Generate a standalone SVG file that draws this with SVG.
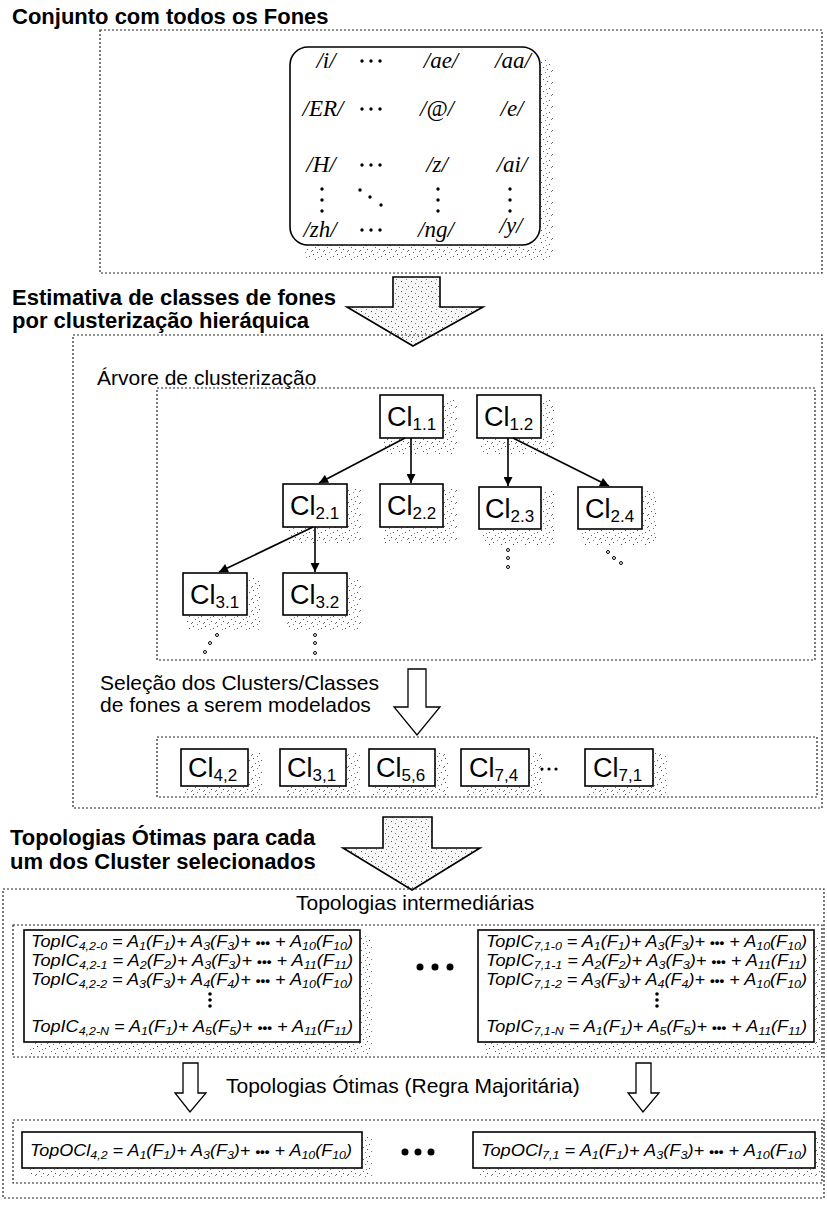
<svg xmlns="http://www.w3.org/2000/svg" width="827" height="1220" viewBox="0 0 827 1220">
<defs>
<pattern id="sh" width="12" height="12" patternUnits="userSpaceOnUse">
<rect x="1" y="2" width="1" height="1" fill="#555"/><rect x="5" y="0" width="1" height="1" fill="#777"/><rect x="9" y="4" width="1" height="1" fill="#555"/><rect x="3" y="7" width="1" height="1" fill="#666"/><rect x="7" y="9" width="1" height="1" fill="#555"/><rect x="11" y="11" width="1" height="1" fill="#777"/><rect x="0" y="10" width="1" height="1" fill="#666"/><rect x="6" y="5" width="1" height="1" fill="#888"/>
</pattern>
<pattern id="ar" width="10" height="10" patternUnits="userSpaceOnUse">
<rect width="10" height="10" fill="#f7f7f7"/><rect x="1" y="1" width="1" height="1" fill="#555"/><rect x="5" y="3" width="1" height="1" fill="#777"/><rect x="8" y="6" width="1" height="1" fill="#555"/><rect x="2" y="7" width="1" height="1" fill="#666"/><rect x="6" y="9" width="1" height="1" fill="#888"/>
</pattern>
<marker id="ah" viewBox="0 0 10 10" refX="10" refY="5" markerWidth="11" markerHeight="9" markerUnits="userSpaceOnUse" orient="auto"><path d="M0,0 L10,5 L0,10 z" fill="#000"/></marker>
<style>
.db{fill:none;stroke:#222;stroke-width:1.2;stroke-dasharray:2 2}
.nb{fill:#fff;stroke:#000;stroke-width:1.6}
.sh{fill:url(#sh)}
.ha{fill:#fff;stroke:#000;stroke-width:1.3}
.ba{fill:url(#ar);stroke:#000;stroke-width:1.6}
.h{font-family:"Liberation Sans",Arial,sans-serif;font-weight:bold;font-size:22px;fill:#000}
.l{font-family:"Liberation Sans",Arial,sans-serif;font-size:21px;fill:#000}
.ph{font-family:"Liberation Serif","Times New Roman",serif;font-style:italic;font-size:23px;text-anchor:middle;fill:#000}
.cl{font-family:"Liberation Sans",Arial,sans-serif;font-size:27px;fill:#000}
.cs{font-size:17px}
.f{font-family:"Liberation Sans",Arial,sans-serif;font-style:italic;font-size:16px;fill:#000}
.s{font-size:11px}
.d{font-size:12px;font-weight:bold;font-style:normal}
.dot{fill:#000}
.cd{fill:none;stroke:#000;stroke-width:1}
.edge{stroke:#000;stroke-width:1.6;fill:none;marker-end:url(#ah)}
</style>
</defs>

<!-- Section 1 -->
<g id="sec1">
<text class="h" x="12" y="24">Conjunto com todos os Fones</text>
<rect class="db" x="100" y="30" width="722" height="243"/>
<path class="sh" d="M540,60 H553 V260 H305 V245 H540 Z"/>
<rect x="290" y="47" width="250" height="198" rx="18" fill="#fff" stroke="#000" stroke-width="1.6"/>
<text class="ph" x="326" y="68">/i/</text>
<text class="ph" x="441" y="68">/ae/</text>
<text class="ph" x="513" y="68">/aa/</text>
<text class="ph" x="323" y="116">/ER/</text>
<text class="ph" x="437" y="116">/@/</text>
<text class="ph" x="512" y="116">/e/</text>
<text class="ph" x="321" y="172">/H/</text>
<text class="ph" x="437" y="172">/z/</text>
<text class="ph" x="512" y="172">/ai/</text>
<text class="ph" x="320" y="237">/zh/</text>
<text class="ph" x="436" y="237">/ng/</text>
<text class="ph" x="511" y="233">/y/</text>
<g class="dot">
<circle cx="362" cy="61" r="1.7"/><circle cx="371" cy="61" r="1.7"/><circle cx="380" cy="61" r="1.7"/>
<circle cx="362" cy="109" r="1.7"/><circle cx="371" cy="109" r="1.7"/><circle cx="380" cy="109" r="1.7"/>
<circle cx="362" cy="165" r="1.7"/><circle cx="371" cy="165" r="1.7"/><circle cx="380" cy="165" r="1.7"/>
<circle cx="362" cy="230" r="1.7"/><circle cx="371" cy="230" r="1.7"/><circle cx="380" cy="230" r="1.7"/>
<circle cx="322" cy="189" r="1.7"/><circle cx="322" cy="200" r="1.7"/><circle cx="322" cy="211" r="1.7"/>
<circle cx="360" cy="190" r="1.7"/><circle cx="370" cy="197" r="1.7"/><circle cx="381" cy="205" r="1.7"/>
<circle cx="438" cy="189" r="1.7"/><circle cx="438" cy="200" r="1.7"/><circle cx="438" cy="211" r="1.7"/>
<circle cx="510" cy="189" r="1.7"/><circle cx="510" cy="200" r="1.7"/><circle cx="510" cy="211" r="1.7"/>
</g>
</g>

<!-- Arrow 1 + title 2 -->
<g id="arrow1">
<polygon class="ba" points="393,277 440,277 440,307 483,307 413,346 347,307 393,307"/>
</g>
<g id="sec2">
<text class="h" x="12" y="305" font-size="21">Estimativa de classes de fones</text>
<text class="h" x="12" y="328" font-size="21">por clusterização hieráquica</text>
<rect class="db" x="73" y="335" width="749" height="473"/>
<text class="l" x="97" y="385">Árvore de clusterização</text>
<rect class="db" x="157" y="388" width="658" height="272"/>
</g>

<!-- Tree nodes -->
<g id="n11"><rect class="sh" x="384" y="399" width="73" height="55"/><rect class="nb" x="380" y="395" width="63" height="43"/><text class="cl" x="387" y="426">Cl<tspan class="cs" dy="4">1.1</tspan></text></g>
<g id="n12"><rect class="sh" x="481" y="399" width="74" height="55"/><rect class="nb" x="477" y="395" width="64" height="43"/><text class="cl" x="484" y="426">Cl<tspan class="cs" dy="4">1.2</tspan></text></g>
<g id="n21"><rect class="sh" x="287" y="488" width="74" height="55"/><rect class="nb" x="283" y="484" width="64" height="43"/><text class="cl" x="290" y="515">Cl<tspan class="cs" dy="4">2.1</tspan></text></g>
<g id="n22"><rect class="sh" x="384" y="488" width="73" height="55"/><rect class="nb" x="380" y="484" width="63" height="43"/><text class="cl" x="387" y="515">Cl<tspan class="cs" dy="4">2.2</tspan></text></g>
<g id="n23"><rect class="sh" x="483" y="491" width="72" height="54"/><rect class="nb" x="479" y="487" width="62" height="42"/><text class="cl" x="485" y="518">Cl<tspan class="cs" dy="4">2.3</tspan></text></g>
<g id="n24"><rect class="sh" x="582" y="491" width="74" height="54"/><rect class="nb" x="578" y="487" width="64" height="42"/><text class="cl" x="585" y="518">Cl<tspan class="cs" dy="4">2.4</tspan></text></g>
<g id="n31"><rect class="sh" x="187" y="577" width="74" height="54"/><rect class="nb" x="183" y="573" width="64" height="42"/><text class="cl" x="190" y="604">Cl<tspan class="cs" dy="4">3.1</tspan></text></g>
<g id="n32"><rect class="sh" x="287" y="577" width="74" height="54"/><rect class="nb" x="283" y="573" width="64" height="42"/><text class="cl" x="290" y="604">Cl<tspan class="cs" dy="4">3.2</tspan></text></g>

<!-- Connectors -->
<g id="connectors">
<path class="edge" d="M405,438 L319,483"/>
<path class="edge" d="M411,438 L411,483"/>
<path class="edge" d="M508,438 L508,486"/>
<path class="edge" d="M513,438 L609,486"/>
<path class="edge" d="M313,527 L219,572"/>
<path class="edge" d="M315,527 L315,572"/>
<g class="cd">
<circle cx="508" cy="550" r="1.5"/><circle cx="508" cy="558" r="1.5"/><circle cx="508" cy="567" r="1.5"/>
<circle cx="608" cy="552" r="1.5"/><circle cx="614" cy="558" r="1.5"/><circle cx="621" cy="563" r="1.5"/>
<circle cx="217" cy="635" r="1.5"/><circle cx="210" cy="643" r="1.5"/><circle cx="205" cy="652" r="1.5"/>
<circle cx="315" cy="635" r="1.5"/><circle cx="315" cy="643" r="1.5"/><circle cx="315" cy="653" r="1.5"/>
</g>
</g>

<!-- Selection -->
<g id="selection">
<text class="l" x="100" y="690">Seleção dos Clusters/Classes</text>
<text class="l" x="100" y="712">de fones a serem modelados</text>
<polygon class="ha" points="408,669 426,669 426,707 440,707 417,735 394,707 408,707"/>
<rect class="db" x="157" y="737" width="660" height="60"/>
</g>
<g id="s42"><rect class="sh" x="185" y="753" width="77" height="42"/><rect class="nb" x="181" y="749" width="67" height="37"/><text class="cl" x="188" y="777">Cl<tspan class="cs" dy="4">4,2</tspan></text></g>
<g id="s31"><rect class="sh" x="284" y="753" width="76" height="42"/><rect class="nb" x="280" y="749" width="66" height="37"/><text class="cl" x="287" y="777">Cl<tspan class="cs" dy="4">3,1</tspan></text></g>
<g id="s56"><rect class="sh" x="373" y="753" width="76" height="42"/><rect class="nb" x="369" y="749" width="66" height="37"/><text class="cl" x="376" y="777">Cl<tspan class="cs" dy="4">5,6</tspan></text></g>
<g id="s74"><rect class="sh" x="465" y="753" width="78" height="42"/><rect class="nb" x="461" y="749" width="68" height="37"/><text class="cl" x="469" y="777">Cl<tspan class="cs" dy="4">7,4</tspan></text></g>
<g id="sdots" class="dot"><circle cx="542" cy="769" r="1.6"/><circle cx="549" cy="769" r="1.6"/><circle cx="556" cy="769" r="1.6"/></g>
<g id="s71"><rect class="sh" x="589" y="753" width="78" height="42"/><rect class="nb" x="585" y="749" width="68" height="37"/><text class="cl" x="593" y="777">Cl<tspan class="cs" dy="4">7,1</tspan></text></g>

<!-- Arrow 3 + title 3 -->
<g id="arrow3">
<polygon class="ba" points="383,817 432,817 432,848 480,848 412,890 343,848 383,848"/>
</g>
<g id="sec3">
<text class="h" x="10" y="845">Topologias Ótimas para cada</text>
<text class="h" x="10" y="869">um dos Cluster selecionados</text>
<rect class="db" x="3" y="889" width="821" height="309"/>
<text class="l" x="296" y="910" font-size="22">Topologias intermediárias</text>
<rect class="db" x="13" y="925" width="809" height="132"/>
</g>

<!-- Left intermediate formulas -->
<g id="fl">
<path class="sh" d="M360,936 H372 V1054 H30 V1042 H360 Z"/>
<rect class="nb" x="24" y="930" width="336" height="112"/>
<text class="f" x="31" y="947" textLength="322" lengthAdjust="spacingAndGlyphs">TopIC<tspan class="s" dy="3">4,2-0</tspan><tspan dy="-3"> = A</tspan><tspan class="s" dy="3">1</tspan><tspan dy="-3">(F</tspan><tspan class="s" dy="3">1</tspan><tspan dy="-3">)+ A</tspan><tspan class="s" dy="3">3</tspan><tspan dy="-3">(F</tspan><tspan class="s" dy="3">3</tspan><tspan dy="-3">)+ </tspan><tspan class="d">•••</tspan><tspan> + A</tspan><tspan class="s" dy="3">10</tspan><tspan dy="-3">(F</tspan><tspan class="s" dy="3">10</tspan><tspan dy="-3">)</tspan></text>
<text class="f" x="31" y="966" textLength="322" lengthAdjust="spacingAndGlyphs">TopIC<tspan class="s" dy="3">4,2-1</tspan><tspan dy="-3"> = A</tspan><tspan class="s" dy="3">2</tspan><tspan dy="-3">(F</tspan><tspan class="s" dy="3">2</tspan><tspan dy="-3">)+ A</tspan><tspan class="s" dy="3">3</tspan><tspan dy="-3">(F</tspan><tspan class="s" dy="3">3</tspan><tspan dy="-3">)+ </tspan><tspan class="d">•••</tspan><tspan> + A</tspan><tspan class="s" dy="3">11</tspan><tspan dy="-3">(F</tspan><tspan class="s" dy="3">11</tspan><tspan dy="-3">)</tspan></text>
<text class="f" x="31" y="985" textLength="322" lengthAdjust="spacingAndGlyphs">TopIC<tspan class="s" dy="3">4,2-2</tspan><tspan dy="-3"> = A</tspan><tspan class="s" dy="3">3</tspan><tspan dy="-3">(F</tspan><tspan class="s" dy="3">3</tspan><tspan dy="-3">)+ A</tspan><tspan class="s" dy="3">4</tspan><tspan dy="-3">(F</tspan><tspan class="s" dy="3">4</tspan><tspan dy="-3">)+ </tspan><tspan class="d">•••</tspan><tspan> + A</tspan><tspan class="s" dy="3">10</tspan><tspan dy="-3">(F</tspan><tspan class="s" dy="3">10</tspan><tspan dy="-3">)</tspan></text>
<g class="dot"><circle cx="210" cy="994" r="1.8"/><circle cx="210" cy="1000" r="1.8"/><circle cx="210" cy="1006" r="1.8"/></g>
<text class="f" x="31" y="1032" textLength="322" lengthAdjust="spacingAndGlyphs">TopIC<tspan class="s" dy="3">4,2-N</tspan><tspan dy="-3"> = A</tspan><tspan class="s" dy="3">1</tspan><tspan dy="-3">(F</tspan><tspan class="s" dy="3">1</tspan><tspan dy="-3">)+ A</tspan><tspan class="s" dy="3">5</tspan><tspan dy="-3">(F</tspan><tspan class="s" dy="3">5</tspan><tspan dy="-3">)+ </tspan><tspan class="d">•••</tspan><tspan> + A</tspan><tspan class="s" dy="3">11</tspan><tspan dy="-3">(F</tspan><tspan class="s" dy="3">11</tspan><tspan dy="-3">)</tspan></text>
</g>

<g id="midDots" class="dot"><circle cx="420" cy="967" r="3.5"/><circle cx="435" cy="967" r="3.5"/><circle cx="450" cy="967" r="3.5"/></g>

<!-- Right intermediate formulas -->
<g id="fr">
<path class="sh" d="M814,936 H822 V1054 H484 V1042 H814 Z"/>
<rect class="nb" x="478" y="930" width="336" height="112"/>
<text class="f" x="486" y="947" textLength="321" lengthAdjust="spacingAndGlyphs">TopIC<tspan class="s" dy="3">7,1-0</tspan><tspan dy="-3"> = A</tspan><tspan class="s" dy="3">1</tspan><tspan dy="-3">(F</tspan><tspan class="s" dy="3">1</tspan><tspan dy="-3">)+ A</tspan><tspan class="s" dy="3">3</tspan><tspan dy="-3">(F</tspan><tspan class="s" dy="3">3</tspan><tspan dy="-3">)+ </tspan><tspan class="d">•••</tspan><tspan> + A</tspan><tspan class="s" dy="3">10</tspan><tspan dy="-3">(F</tspan><tspan class="s" dy="3">10</tspan><tspan dy="-3">)</tspan></text>
<text class="f" x="486" y="966" textLength="321" lengthAdjust="spacingAndGlyphs">TopIC<tspan class="s" dy="3">7,1-1</tspan><tspan dy="-3"> = A</tspan><tspan class="s" dy="3">2</tspan><tspan dy="-3">(F</tspan><tspan class="s" dy="3">2</tspan><tspan dy="-3">)+ A</tspan><tspan class="s" dy="3">3</tspan><tspan dy="-3">(F</tspan><tspan class="s" dy="3">3</tspan><tspan dy="-3">)+ </tspan><tspan class="d">•••</tspan><tspan> + A</tspan><tspan class="s" dy="3">11</tspan><tspan dy="-3">(F</tspan><tspan class="s" dy="3">11</tspan><tspan dy="-3">)</tspan></text>
<text class="f" x="486" y="985" textLength="321" lengthAdjust="spacingAndGlyphs">TopIC<tspan class="s" dy="3">7,1-2</tspan><tspan dy="-3"> = A</tspan><tspan class="s" dy="3">3</tspan><tspan dy="-3">(F</tspan><tspan class="s" dy="3">3</tspan><tspan dy="-3">)+ A</tspan><tspan class="s" dy="3">4</tspan><tspan dy="-3">(F</tspan><tspan class="s" dy="3">4</tspan><tspan dy="-3">)+ </tspan><tspan class="d">•••</tspan><tspan> + A</tspan><tspan class="s" dy="3">10</tspan><tspan dy="-3">(F</tspan><tspan class="s" dy="3">10</tspan><tspan dy="-3">)</tspan></text>
<g class="dot"><circle cx="657" cy="994" r="1.8"/><circle cx="657" cy="1000" r="1.8"/><circle cx="657" cy="1006" r="1.8"/></g>
<text class="f" x="486" y="1032" textLength="321" lengthAdjust="spacingAndGlyphs">TopIC<tspan class="s" dy="3">7,1-N</tspan><tspan dy="-3"> = A</tspan><tspan class="s" dy="3">1</tspan><tspan dy="-3">(F</tspan><tspan class="s" dy="3">1</tspan><tspan dy="-3">)+ A</tspan><tspan class="s" dy="3">5</tspan><tspan dy="-3">(F</tspan><tspan class="s" dy="3">5</tspan><tspan dy="-3">)+ </tspan><tspan class="d">•••</tspan><tspan> + A</tspan><tspan class="s" dy="3">11</tspan><tspan dy="-3">(F</tspan><tspan class="s" dy="3">11</tspan><tspan dy="-3">)</tspan></text>
</g>

<!-- Optimal topologies -->
<g id="optArrows">
<polygon class="ha" points="183,1063 198,1063 198,1093 206,1093 190,1112 175,1093 183,1093"/>
<polygon class="ha" points="636,1063 651,1063 651,1093 659,1093 643,1112 628,1093 636,1093"/>
<text class="l" x="226" y="1093" font-size="22">Topologias Ótimas (Regra Majoritária)</text>
<rect class="db" x="13" y="1120" width="809" height="63"/>
</g>
<g id="o42">
<path class="sh" d="M362,1137 H372 V1178 H30 V1168 H362 Z"/>
<rect class="nb" x="22" y="1132" width="340" height="36"/>
<text class="f" x="30" y="1156" textLength="322" lengthAdjust="spacingAndGlyphs">TopOCl<tspan class="s" dy="3">4,2</tspan><tspan dy="-3"> = A</tspan><tspan class="s" dy="3">1</tspan><tspan dy="-3">(F</tspan><tspan class="s" dy="3">1</tspan><tspan dy="-3">)+ A</tspan><tspan class="s" dy="3">3</tspan><tspan dy="-3">(F</tspan><tspan class="s" dy="3">3</tspan><tspan dy="-3">)+ </tspan><tspan class="d">•••</tspan><tspan> + A</tspan><tspan class="s" dy="3">10</tspan><tspan dy="-3">(F</tspan><tspan class="s" dy="3">10</tspan><tspan dy="-3">)</tspan></text>
</g>
<g id="oDots" class="dot"><circle cx="405" cy="1152" r="3.5"/><circle cx="418" cy="1152" r="3.5"/><circle cx="431" cy="1152" r="3.5"/></g>
<g id="o71">
<path class="sh" d="M815,1137 H822 V1178 H480 V1168 H815 Z"/>
<rect class="nb" x="473" y="1132" width="342" height="36"/>
<text class="f" x="481" y="1156" textLength="326" lengthAdjust="spacingAndGlyphs">TopOCl<tspan class="s" dy="3">7,1</tspan><tspan dy="-3"> = A</tspan><tspan class="s" dy="3">1</tspan><tspan dy="-3">(F</tspan><tspan class="s" dy="3">1</tspan><tspan dy="-3">)+ A</tspan><tspan class="s" dy="3">3</tspan><tspan dy="-3">(F</tspan><tspan class="s" dy="3">3</tspan><tspan dy="-3">)+ </tspan><tspan class="d">•••</tspan><tspan> + A</tspan><tspan class="s" dy="3">10</tspan><tspan dy="-3">(F</tspan><tspan class="s" dy="3">10</tspan><tspan dy="-3">)</tspan></text>
</g>
</svg>
